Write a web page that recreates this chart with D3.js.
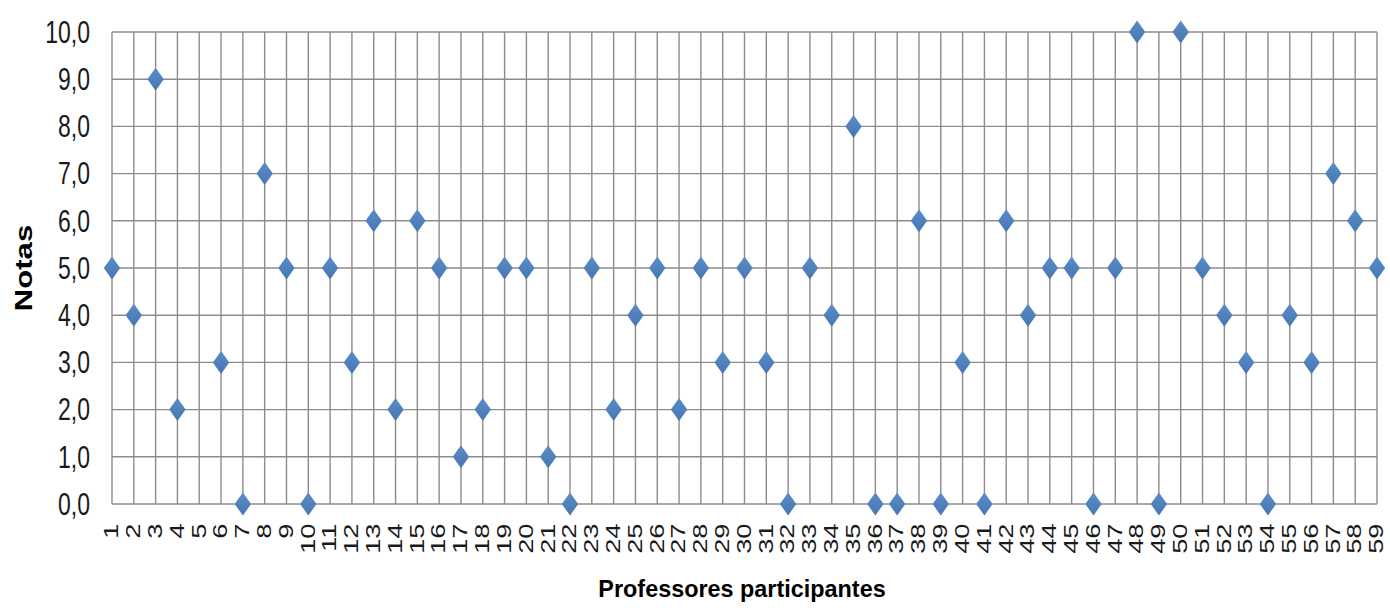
<!DOCTYPE html>
<html>
<head>
<meta charset="utf-8">
<script src="https://cdn.jsdelivr.net/npm/d3@7/dist/d3.min.js"></script>
<style>
  html, body { margin: 0; padding: 0; background: #fff; }
  svg { display: block; font-family: "Liberation Sans", Arial, sans-serif; }
</style>
</head>
<body>
<svg id="chart" width="1390" height="608"></svg>
<script>
// Participants 1..59; participant 5 has no grade
const participants = d3.range(1, 60);
const grades = [
  5, 4, 9, 2, null, 3, 0, 7, 5, 0,
  5, 3, 6, 2, 6, 5, 1, 2, 5, 5,
  1, 0, 5, 2, 4, 5, 2, 5, 3, 5,
  3, 0, 5, 4, 8, 0, 0, 6, 0, 3,
  0, 6, 4, 5, 5, 0, 5, 10, 0, 10,
  5, 4, 3, 0, 4, 3, 7, 6, 5
];
const yTicks = [0, 1, 2, 3, 4, 5, 6, 7, 8, 9, 10];
const xTitle = "Professores participantes";
const yTitle = "Notas";

const svg = d3.select("#chart");
const plotLeft = 112, plotRight = 1377, plotTop = 32, plotBottom = 504;

const x = d3.scaleLinear().domain([1, 59]).range([plotLeft, plotRight]);
const y = d3.scaleLinear().domain([0, 10]).range([plotBottom, plotTop]);
const fmt = v => v.toFixed(1).replace(".", ",");
const gridColor = "#8c8c8c";

// vertical grid lines, one per participant
svg.append("g")
  .selectAll("line")
  .data(participants)
  .join("line")
  .attr("x1", d => x(d)).attr("x2", d => x(d))
  .attr("y1", plotTop).attr("y2", plotBottom)
  .attr("stroke", gridColor).attr("stroke-width", 1.4);

// horizontal grid lines
svg.append("g")
  .selectAll("line")
  .data(yTicks)
  .join("line")
  .attr("x1", plotLeft).attr("x2", plotRight)
  .attr("y1", d => y(d)).attr("y2", d => y(d))
  .attr("stroke", gridColor).attr("stroke-width", 1.4);

// y tick labels (tall, narrow look)
svg.append("g")
  .selectAll("text")
  .data(yTicks)
  .join("text")
  .attr("transform", d => `translate(90,${y(d)}) scale(1,1.33)`)
  .attr("text-anchor", "end")
  .attr("dy", "0.35em")
  .attr("font-size", 23)
  .attr("fill", "#1a1a1a")
  .text(fmt);

// x tick labels, rotated
svg.append("g")
  .selectAll("text")
  .data(participants)
  .join("text")
  .attr("transform", d => `translate(${x(d)},523.5) rotate(-90) scale(1.3,1)`)
  .attr("text-anchor", "end")
  .attr("dy", "0.3em")
  .attr("font-size", 21)
  .attr("fill", "#1a1a1a")
  .text(d => d);

// diamond markers
const hw = 8.2, hh = 11.5;
const diamond = `M0,${-hh}L${hw},0L0,${hh}L${-hw},0Z`;
const defs = svg.append("defs");
const grad = defs.append("linearGradient").attr("id", "mk").attr("x1", 0).attr("y1", 0).attr("x2", 0).attr("y2", 1);
grad.append("stop").attr("offset", "0%").attr("stop-color", "#5a8cc8");
grad.append("stop").attr("offset", "100%").attr("stop-color", "#4677b3");

svg.append("g")
  .selectAll("path")
  .data(participants.map((p, i) => ({ p, v: grades[i] })).filter(d => d.v !== null))
  .join("path")
  .attr("transform", d => `translate(${x(d.p)},${y(d.v)})`)
  .attr("d", diamond)
  .attr("fill", "url(#mk)");

// axis titles
svg.append("text")
  .attr("x", 742).attr("y", 597)
  .attr("text-anchor", "middle")
  .attr("font-size", 23.4)
  .attr("font-weight", "bold")
  .attr("fill", "#000")
  .text(xTitle);

svg.append("text")
  .attr("transform", "translate(31.5,268) rotate(-90) scale(1.33,1)")
  .attr("text-anchor", "middle")
  .attr("font-size", 23.4)
  .attr("font-weight", "bold")
  .attr("fill", "#000")
  .text(yTitle);
</script>
</body>
</html>
